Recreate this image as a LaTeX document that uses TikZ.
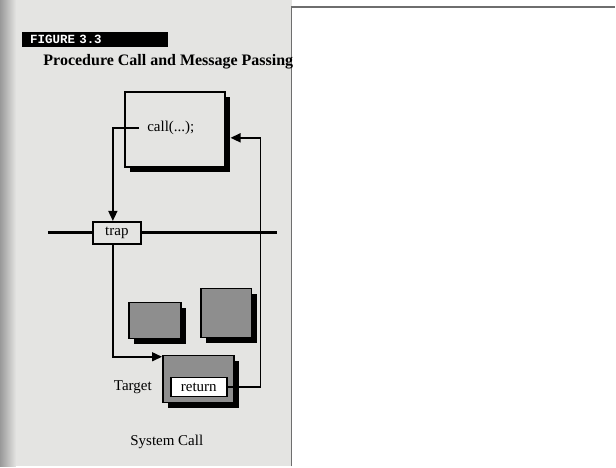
\documentclass[tikz,border=0pt]{standalone}
\usepackage{fontspec}
\setmainfont{Liberation Serif}
\newfontfamily\monofont{Liberation Mono}
\usetikzlibrary{arrows.meta,positioning,calc,shadows}

\begin{document}
\begin{tikzpicture}[x=1pt,y=-1pt,
  >={Triangle[length=10pt,width=9pt]},
  font=\fontsize{15}{17}\selectfont,
  blk/.style={rectangle,draw=black,line width=1.6pt,fill=#1,inner sep=0pt,
              drop shadow={shadow xshift=5pt,shadow yshift=-5pt,fill=black,opacity=1}},
  lbl/.style={rectangle,draw=black,line width=1.6pt,fill=#1,inner sep=0pt},
  con/.style={->,line width=1.5pt},
]
  \definecolor{cpage}{HTML}{E4E4E2}
  \definecolor{cbox}{HTML}{8E8E8E}
  \definecolor{cframe}{HTML}{6E6E6E}

  % scanned page on the left, empty panel on the right
  \fill[white] (0,0) rectangle (616,467);
  \fill[cpage] (0,0) rectangle (292,467);
  \shade[left color=black!40,right color=cpage] (0,0) rectangle (16,467);
  \draw[cframe,line width=1.5pt] (292,467) -- (292,7) -- (616,7);
  \useasboundingbox (0,0) rectangle (616,467);

  % heading
  \node[fill=black,text=white,anchor=west,inner xsep=8pt,inner ysep=0pt,
        minimum height=15pt,text width=130pt,align=left,
        font=\monofont\bfseries\fontsize{12.5}{14}\selectfont] (banner) at (22,39.5) {FIGURE 3.3};
  \node[anchor=base west,font=\bfseries\fontsize{16}{18}\selectfont] (title) at (40,65.5)
        {Procedure Call and Message Passing};

  % caller
  \node[blk=cpage,minimum width=100pt,minimum height=75pt] (caller) at (175,129.5) {};
  \node[inner sep=8pt] (call) at (171,128) {call(...);};

  % kernel boundary
  \coordinate (kl) at (48,233);
  \coordinate (kr) at (277,233);
  \draw[line width=3pt] (kl) -- (kr);
  \node[lbl=cpage,minimum width=48pt,minimum height=22pt] (trap) at (117,233) {trap};

  % kernel side
  \node[blk=cbox,minimum width=52pt,minimum height=36pt] (pa) at (155,321) {};
  \node[blk=cbox,minimum width=51pt,minimum height=49pt] (pb) at (226.5,313.5) {};
  \node[blk=cbox,minimum width=71pt,minimum height=47pt] (target) at (198.5,379.5) {};
  \node[lbl=white,minimum width=56pt,minimum height=19pt] (ret) at (199,387.5) {return};
  \node (tlab) at (133,388) {Target};
  \node (sys) at (167,442) {System Call};

  % flows
  \coordinate (rt) at (261,138);
  \draw[con] (call.west) -| ([xshift=-4pt]trap.north);
  \draw[con] ([xshift=-4pt]trap.south) |- ([yshift=-2pt]target.north west);
  \draw[con] (ret.east) -| (rt) -- ($(caller.east |- rt)+(5,0)$);
\end{tikzpicture}
\end{document}
